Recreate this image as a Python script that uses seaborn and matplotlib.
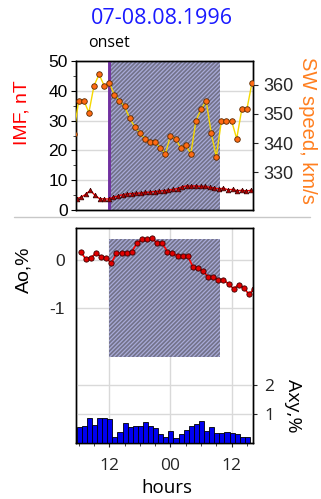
import numpy as np
import pandas as pd
import matplotlib
matplotlib.use("Agg")
import matplotlib.pyplot as plt
from matplotlib.patches import Rectangle
from matplotlib.lines import Line2D
from matplotlib.ticker import MultipleLocator, FixedLocator
import seaborn as sns

# ---- data (hours counted from 07.08 00:00) ----
sw_hours = list(range(5, 41))
sw_speed = [343.0, 354.6, 354.6, 350.5, 359.7, 363.6, 359.7, 360.7,
            356.6, 354.6, 352.6, 348.5, 345.6, 343.5, 341.5, 340.4, 340.4,
            338.4, 336.3, 342.5, 341.5, 338.4, 339.4, 336.3, 347.6, 351.6,
            354.5, 343.5, 335.3, 347.6, 347.6, 347.6, 341.5, 351.6, 351.6, 360.7]

imf_hours = np.arange(5.6, 40.5, 0.9)
imf_vals = [3.8, 4.3, 5.3, 6.6, 4.9, 3.8, 3.7, 3.7, 4.3, 4.7, 5.1, 5.4, 5.5,
            5.6, 5.7, 5.9, 6.0, 6.2, 6.3, 6.5, 6.6, 6.9, 7.2, 7.8, 8.1, 8.0,
            8.1, 7.9, 7.9, 7.6, 7.4, 7.1, 7.3, 6.8, 6.9, 6.5, 6.6, 6.4, 6.6]

ao_hours = [6.4 + i for i in range(35)]
ao_vals = [0.166, 0.014, 0.048, 0.138, 0.069, 0.041, -0.069, 0.138, 0.152,
           0.152, 0.159, 0.345, 0.428, 0.428, 0.448, 0.345, 0.345, 0.172,
           0.138, 0.083, 0.083, 0.083, -0.145, -0.17, -0.235, -0.35, -0.35,
           -0.41, -0.41, -0.5, -0.6, -0.51, -0.575, -0.715, -0.6]

axy_hours = [6.1 + i for i in range(34)]
axy_vals = [0.56, 0.58, 0.86, 0.62, 0.86, 0.86, 0.83, 0.19, 0.37, 0.68, 0.56,
            0.59, 0.59, 0.71, 0.58, 0.51, 0.29, 0.20, 0.40, 0.18, 0.30, 0.44,
            0.59, 0.63, 0.76, 0.39, 0.56, 0.32, 0.35, 0.38, 0.33, 0.30, 0.19, 0.19]

onset_hour = 12.0
storm_end_hour = 33.7
ao_box = (-2.02, 0.44)

x_ticks = [12, 24, 36]
x_ticklabels = ["12", "00", "12"]

# ---- style ----
sns.set_theme(style="ticks")
plt.rcParams["font.family"] = ["Liberation Sans", "DejaVu Sans"]
plt.rcParams["hatch.linewidth"] = 0.9
plt.rcParams["axes.linewidth"] = 1.0
plt.rcParams["axes.edgecolor"] = "black"

GRID = "#d9d9d9"
SHADE_FACE = "#72728a"
SHADE_HATCH = "#a9abd8"
HATCH = "////////"
CALIBRI = ["Open Sans", "DejaVu Sans"]
ARIAL = ["Liberation Sans", "DejaVu Sans"]

W, H = 321, 499
fig = plt.figure(figsize=(W / 100, H / 100), dpi=100)
xlim = (5.47, 40.2)

# ================= top panel: IMF + SW speed =================
ax_t = fig.add_axes([76 / W, 1 - 210 / H, 177 / W, 149 / H])
ax_sw = ax_t.twinx()

ax_t.axvspan(onset_hour, storm_end_hour, facecolor=SHADE_FACE, edgecolor=SHADE_HATCH,
             hatch=HATCH, linewidth=0, zorder=1)
ax_t.axvline(onset_hour, color="#7030a0", lw=2.1, zorder=3)

sns.lineplot(x=imf_hours, y=imf_vals, ax=ax_t, color="#ff0000", lw=1.0,
             marker="^", markersize=3.4, markerfacecolor="#b00000",
             markeredgecolor="#300000", markeredgewidth=0.5, zorder=4)
sns.lineplot(x=sw_hours, y=sw_speed, ax=ax_sw, color="#f5d800", lw=1.0,
             marker="o", markersize=4.0, markerfacecolor="#ff6a13",
             markeredgecolor="#5a2a00", markeredgewidth=0.6, zorder=4)

ax_t.set_xlim(*xlim)
ax_t.set_ylim(0, 50)
ax_sw.set_ylim(317, 368.2)
ax_t.yaxis.set_major_locator(MultipleLocator(10))
ax_t.yaxis.set_minor_locator(MultipleLocator(5))
ax_sw.yaxis.set_major_locator(FixedLocator([330, 340, 350, 360]))
ax_t.yaxis.grid(True, color=GRID, lw=1.0)
ax_t.set_axisbelow(True)
ax_t.tick_params(axis="x", bottom=False, labelbottom=False)
ax_t.tick_params(axis="y", which="major", length=3.5, width=0.8, pad=2.5,
                 labelsize=12.5, colors="black")
ax_t.tick_params(axis="y", which="minor", length=2, width=0.6)
ax_sw.tick_params(axis="y", length=3.5, width=0.8, pad=4, labelsize=13)
ax_t.set_xlabel("")
ax_t.set_ylabel("")
ax_sw.set_ylabel("")
for sp in ax_sw.spines.values():
    sp.set_color("black")

# ================= bottom panel: Ao + Axy =================
ax_b = fig.add_axes([76 / W, 1 - 443 / H, 177 / W, 215 / H])
ax_xy = ax_b.twinx()

ax_b.add_patch(Rectangle((onset_hour, ao_box[0]), storm_end_hour - onset_hour,
                         ao_box[1] - ao_box[0], facecolor=SHADE_FACE,
                         edgecolor=SHADE_HATCH, hatch=HATCH, linewidth=0, zorder=1))

sns.lineplot(x=ao_hours, y=ao_vals, ax=ax_b, color="#ff0000", lw=1.2,
             marker="o", markersize=3.8, markerfacecolor="#e00000",
             markeredgecolor="#3a0000", markeredgewidth=0.6, zorder=4)

axy_df = pd.DataFrame({"hour": axy_hours, "axy": axy_vals})
edges = [h - 0.5 for h in axy_hours] + [axy_hours[-1] + 0.5]
sns.histplot(data=axy_df, x="hour", weights="axy", bins=edges, ax=ax_xy,
             color="#0000f0", edgecolor="black", linewidth=0.6, alpha=1.0)

ax_b.set_xlim(*xlim)
ax_b.set_ylim(-3.79, 0.66)
ax_xy.set_ylim(-0.01, 7.42)
ax_b.yaxis.set_major_locator(FixedLocator([-1, 0]))
ax_b.set_yticklabels(["-1", "0"])
ax_xy.yaxis.set_major_locator(FixedLocator([1, 2]))
ax_b.xaxis.set_major_locator(FixedLocator(x_ticks))
ax_b.set_xticklabels(x_ticklabels, fontfamily=CALIBRI)
ax_b.xaxis.set_minor_locator(MultipleLocator(3))
ax_b.grid(True, color=GRID, lw=1.0)
ax_b.set_axisbelow(True)
ax_xy.yaxis.grid(True, color=GRID, lw=1.0)
ax_xy.set_axisbelow(True)

ax_b.tick_params(axis="x", which="major", length=3, width=0.8, pad=8,
                 labelsize=12.5)
ax_b.tick_params(axis="x", which="minor", length=2.5, width=0.6)
ax_b.tick_params(axis="y", length=0, pad=8, labelsize=12.5)
ax_xy.tick_params(axis="y", length=3, width=0.8, pad=5, labelsize=12.5)
for lab in ax_xy.get_yticklabels():
    lab.set_fontfamily(CALIBRI)
ax_b.set_xlabel("")
ax_b.set_ylabel("")
ax_xy.set_ylabel("")
for sp in ax_xy.spines.values():
    sp.set_color("black")

# ---- texts ----
fig.text(162 / W, 1 - 18 / H, "07-08.08.1996", color="#1a1aff", fontsize=15.5,
         family=CALIBRI, ha="center", va="center")
fig.text(109 / W, 1 - 43 / H, "onset", color="black", fontsize=11.5,
         family=CALIBRI, ha="center", va="center")
fig.text(22.5 / W, 1 - 113 / H, "IMF, nT", color="#ff0000", fontsize=14,
         family=ARIAL, rotation=90, ha="center", va="center")
fig.text(307.5 / W, 1 - 130 / H, "SW speed, km/s", color="#ff7f1f", fontsize=14.5,
         family=ARIAL, rotation=-90, ha="center", va="center")
fig.text(23.5 / W, 1 - 270 / H, "Ao,%", color="black", fontsize=14,
         family=ARIAL, rotation=90, ha="center", va="center")
fig.text(293 / W, 1 - 406 / H, "Axy,%", color="black", fontsize=14,
         family=CALIBRI, rotation=-90, ha="center", va="center")
fig.text(167 / W, 1 - 488 / H, "hours", color="black", fontsize=13.5,
         family=CALIBRI, ha="center", va="center")

fig.add_artist(Line2D([14 / W, 310 / W], [1 - 217 / H, 1 - 217 / H],
                      color="#c8c8c8", lw=1.0))

fig.savefig("out.png", dpi=100)
